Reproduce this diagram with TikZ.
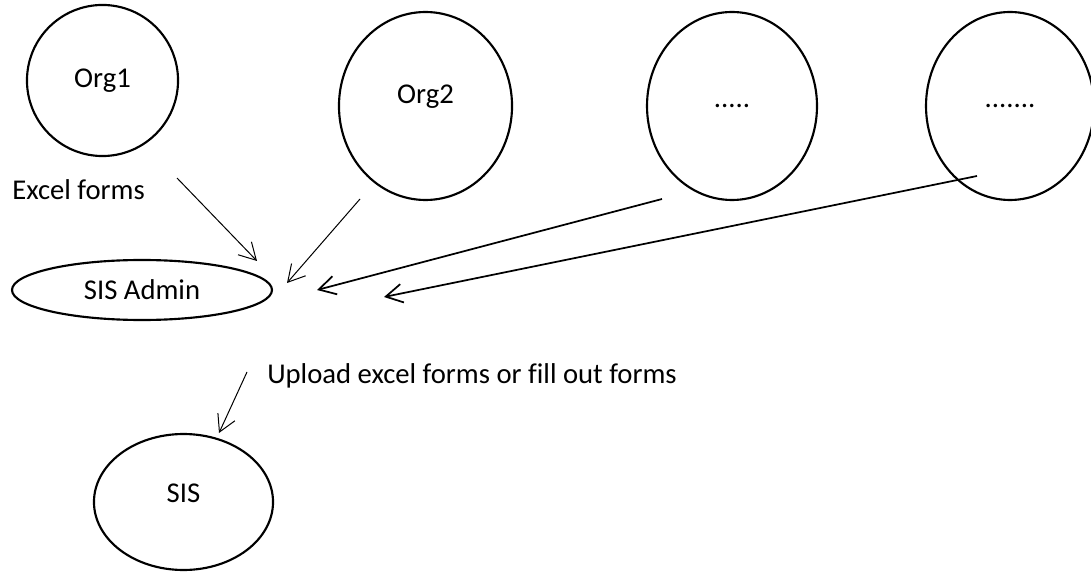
\documentclass[tikz,border=0pt]{standalone}
\usepackage{fontspec}
\setmainfont{Carlito}[Ligatures=NoCommon]
\usetikzlibrary{arrows.meta, shapes.geometric}
\tikzset{
	every node/.style={
		align=center,
	},
	orgnode/.style={draw, ellipse, line width=1.6pt, inner sep=0pt},
	feed/.style={-{Straight Barb[length=12.5pt,width=14pt]}, line width=0.75pt},
	bigfeed/.style={feed, line width=1.3pt},
}

\begin{document}
\begin{tikzpicture}[x=0.75pt, y=-0.75pt, font=\fontsize{21.5}{26}\selectfont]
    \useasboundingbox (0,0) rectangle (1091,573);

    \node (org1) [orgnode, minimum width=113.3pt, minimum height=113.3pt] at (102.5,80.5) {Org1};
    \node (org2) [orgnode, minimum width=129.8pt, minimum height=141pt, text depth=18pt] at (425.5,106) {Org2};
    \node (orgx) [orgnode, minimum width=127.5pt, minimum height=141pt] at (732,106) {.....};
    \node (orgy) [orgnode, minimum width=126pt, minimum height=141pt] at (1010,106) {.......};

    \node (admin) [orgnode, minimum width=195pt, minimum height=45pt] at (142,290) {SIS Admin};
    \node (sis) [orgnode, minimum width=134.3pt, minimum height=102pt, text depth=13.5pt] at (183.5,502) {SIS};

    \node (excel) [anchor=base west, inner sep=0pt] at (12,200) {Excel forms};
    \node (upload) [anchor=base west, inner sep=0pt] at (267,383) {Upload excel forms or fill out forms};

    % free ends of the connectors
    \coordinate (org1out) at (177,178);
    \coordinate (org2out) at (360,199);
    \coordinate (orgxout) at (662,199);
    \coordinate (orgyout) at (977,176);
    \coordinate (adminin1) at (257,261);
    \coordinate (adminin2) at (287,283);
    \coordinate (adminin3) at (317,290);
    \coordinate (adminin4) at (384,297);
    \coordinate (adminout) at (247,372);
    \coordinate (sisin) at (219,433);

    \draw [feed] (org1out) -- (adminin1);
    \draw [feed] (org2out) -- (adminin2);
    \draw [bigfeed] (orgxout) -- (adminin3);
    \draw [bigfeed] (orgyout) -- (adminin4);
    \draw [feed] (adminout) -- (sisin);

\end{tikzpicture}
\end{document}
